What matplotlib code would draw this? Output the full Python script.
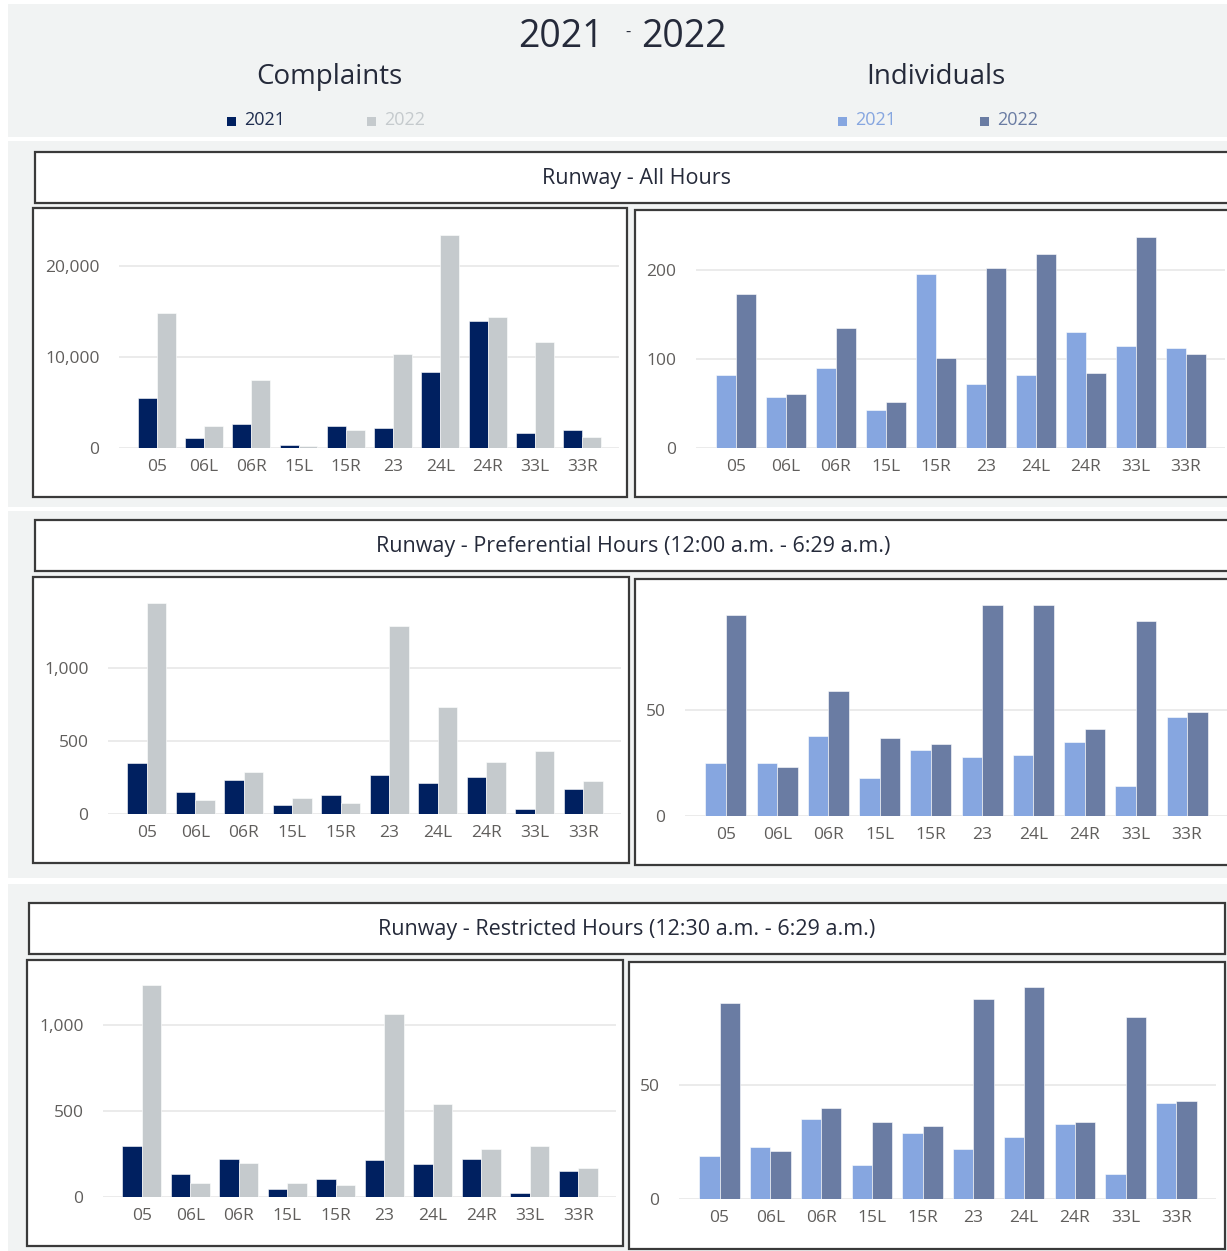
import matplotlib
matplotlib.use("Agg")
import matplotlib.pyplot as plt
from matplotlib.patches import Rectangle
from matplotlib.ticker import FuncFormatter
import numpy as np

plt.rcParams['font.family'] = ['Open Sans', 'DejaVu Sans']

# Data
runways = ["05", "06L", "06R", "15L", "15R", "23", "24L", "24R", "33L", "33R"]

complaints_all_2021 = [5540, 1140, 2680, 290, 2460, 2200, 8330, 13980, 1690, 2020]
complaints_all_2022 = [14860, 2420, 7520, 250, 1980, 10390, 23490, 14460, 11710, 1170]
individuals_all_2021 = [82, 57, 90, 43, 196, 72, 82, 131, 115, 113]
individuals_all_2022 = [173, 61, 135, 52, 101, 203, 218, 85, 238, 106]

complaints_pref_2021 = [349, 151, 231, 59, 132, 269, 212, 253, 37, 171]
complaints_pref_2022 = [1445, 98, 290, 110, 78, 1292, 731, 356, 429, 224]
individuals_pref_2021 = [25, 25, 38, 18, 31, 28, 29, 35, 14, 47]
individuals_pref_2022 = [95, 23, 59, 37, 34, 100, 100, 41, 92, 49]

complaints_restr_2021 = [297, 134, 223, 48, 107, 213, 190, 223, 23, 151]
complaints_restr_2022 = [1231, 79, 200, 83, 68, 1060, 539, 279, 295, 167]
individuals_restr_2021 = [19, 23, 35, 15, 29, 22, 27, 33, 11, 42]
individuals_restr_2022 = [86, 21, 40, 34, 32, 88, 93, 34, 80, 43]

section_titles = ["Runway - All Hours",
                  "Runway - Preferential Hours (12:00 a.m. - 6:29 a.m.)",
                  "Runway - Restricted Hours (12:30 a.m. - 6:29 a.m.)"]

# Colours
NAVY = "#002060"
LGRAY = "#c5cacd"
LBLUE = "#86a6e0"
SLATE = "#6a7ca3"
TXT = "#252a3a"
TICK = "#605e5c"
BG = "#f1f3f3"

W, H = 1227, 1251
fig = plt.figure(figsize=(W / 100, H / 100), dpi=100)
fig.patch.set_facecolor("white")


def rect(x0, y0, x1, y1, **kw):
    r = Rectangle((x0 / W, 1 - y1 / H), (x1 - x0) / W, (y1 - y0) / H,
                  transform=fig.transFigure, **kw)
    fig.add_artist(r)


def ftext(x, y, s, **kw):
    fig.text(x / W, 1 - y / H, s, **kw)


# grey backgrounds
rect(8, 4, 1227, 137, facecolor=BG, edgecolor="none", zorder=-3)
rect(8, 141, 1227, 507, facecolor=BG, edgecolor="none", zorder=-3)
rect(8, 511, 1227, 878, facecolor=BG, edgecolor="none", zorder=-3)
rect(8, 884, 1227, 1251, facecolor=BG, edgecolor="none", zorder=-3)

# header
ftext(561, 37, "2021", fontsize=27, color=TXT, ha="center", va="center")
ftext(628, 33, "-", fontsize=12, color=TXT, ha="center", va="center")
ftext(684, 37, "2022", fontsize=27, color=TXT, ha="center", va="center")
ftext(329, 77, "Complaints", fontsize=20, color=TXT, ha="center", va="center")
ftext(936, 77, "Individuals", fontsize=20, color=TXT, ha="center", va="center")

legend_items = [(231, "2021", NAVY, "#1f2d4f"), (371, "2022", LGRAY, LGRAY),
                (842, "2021", LBLUE, LBLUE), (984, "2022", SLATE, SLATE)]
for x, lab, c, tc in legend_items:
    rect(x - 4, 117, x + 5, 126, facecolor=c, edgecolor="none", zorder=1)
    ftext(x + 13, 120, lab, fontsize=13, color=tc, ha="left", va="center")

# section title boxes
title_boxes = [(35, 152, 1240, 203), (35, 520, 1240, 571), (29, 903, 1225, 954)]
title_centers = [637, 633, 627]
for (x0, y0, x1, y1), cx, t in zip(title_boxes, title_centers, section_titles):
    rect(x0, y0, x1, y1, facecolor="white", edgecolor="#3a3a3a", lw=1.6, zorder=-1)
    ftext(cx, (y0 + y1) / 2 + 1, t, fontsize=15.5, color=TXT, ha="center", va="center")

# chart boxes
chart_boxes = [(33, 208, 627, 497), (635, 210, 1240, 497),
               (33, 577, 629, 863), (635, 579, 1240, 865),
               (27, 960, 623, 1246), (629, 962, 1225, 1249)]
for x0, y0, x1, y1 in chart_boxes:
    rect(x0, y0, x1, y1, facecolor="white", edgecolor="#3a3a3a", lw=1.6, zorder=-1)

# axes: left, right, zero line y, top y, ymax, ticks
panels = [
    (119, 619, 448, 221, 25000, [0, 10000, 20000], complaints_all_2021, complaints_all_2022, NAVY, LGRAY),
    (696, 1225, 448, 226, 250, [0, 100, 200], individuals_all_2021, individuals_all_2022, LBLUE, SLATE),
    (108, 621, 814, 588, 1550, [0, 500, 1000], complaints_pref_2021, complaints_pref_2022, NAVY, LGRAY),
    (685, 1227, 816, 594, 105, [0, 50], individuals_pref_2021, individuals_pref_2022, LBLUE, SLATE),
    (103, 616, 1197, 973, 1300, [0, 500, 1000], complaints_restr_2021, complaints_restr_2022, NAVY, LGRAY),
    (679, 1216, 1199, 978, 97, [0, 50], individuals_restr_2021, individuals_restr_2022, LBLUE, SLATE),
]

x = np.arange(len(runways))
for left, right, y0, ytop, ymax, ticks, s1, s2, c1, c2 in panels:
    ax = fig.add_axes([left / W, 1 - y0 / H, (right - left) / W, (y0 - ytop) / H])
    ax.patch.set_alpha(0)
    ax.bar(x - 0.2, s1, width=0.4, color=c1, edgecolor="white", linewidth=0.4, zorder=2)
    ax.bar(x + 0.2, s2, width=0.4, color=c2, edgecolor="white", linewidth=0.4, zorder=2)
    ax.set_xlim(-0.8, 9.78)
    ax.set_ylim(0, ymax)
    ax.set_yticks(ticks)
    ax.yaxis.set_major_formatter(FuncFormatter(lambda v, p: f"{int(v):,}"))
    ax.set_xticks(x)
    ax.set_xticklabels(runways)
    ax.grid(axis="y", color="#e8e8e8", lw=1.2, zorder=0)
    for sp in ax.spines.values():
        sp.set_visible(False)
    ax.tick_params(length=0, labelsize=12.5, colors=TICK)
    ax.tick_params(axis="y", pad=14)
    ax.tick_params(axis="x", pad=8)

fig.savefig("out.png", dpi=100)
